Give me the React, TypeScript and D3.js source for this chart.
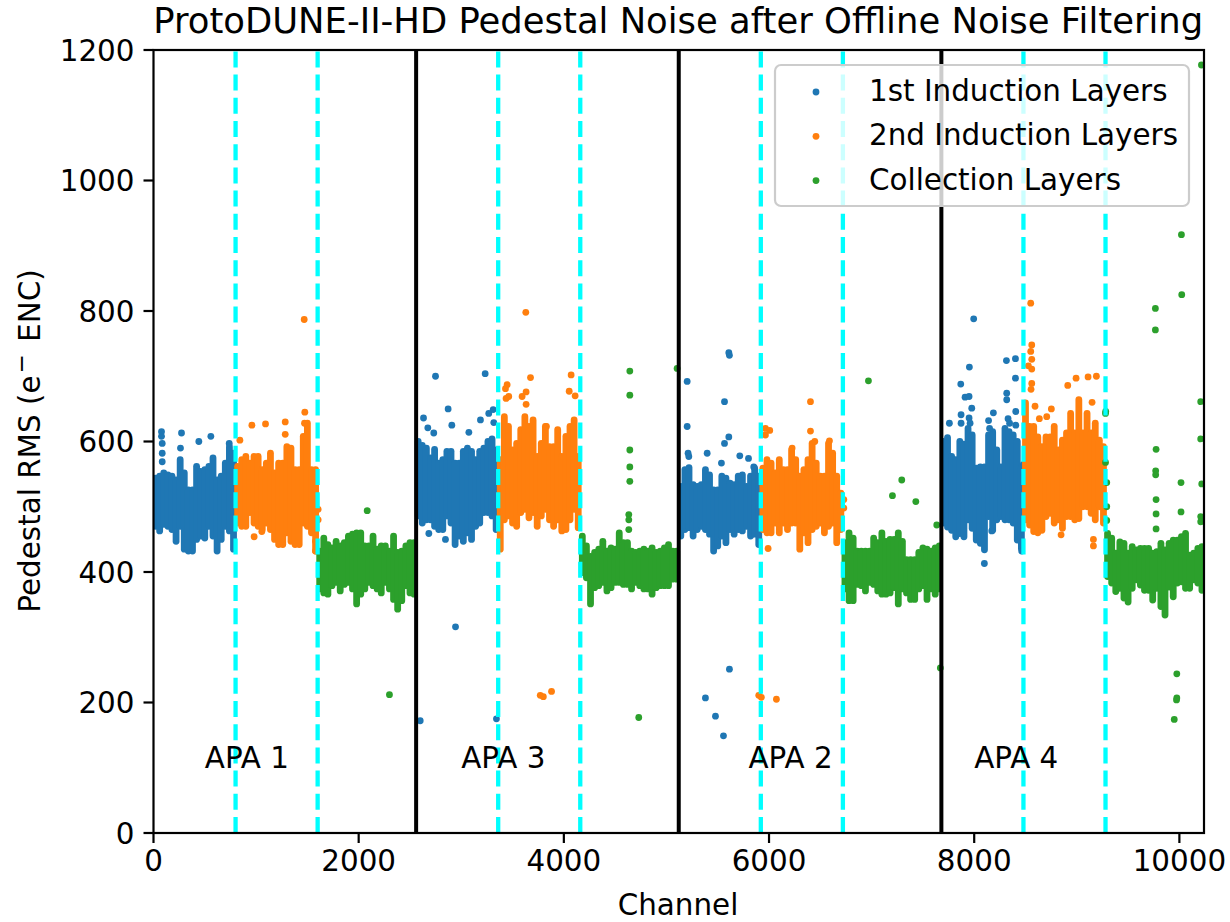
import React from "react";
import * as d3 from "d3";

// Channel ranges of each dense band and the width of one read-off column
const apaStarts = [0, 2560, 5120, 7680];
const firstWidth = 800;
const secondWidth = 800;
const columnStep = 40;

// Upper / lower edge of the dense cloud
const firstHi = [
  [544, 547, 552, 549, 547, 541, 572, 552, 526, 526, 562, 554, 557, 562, 575, 541, 547, 567, 592, 582],
  [600, 594, 590, 575, 588, 567, 572, 585, 585, 567, 567, 585, 590, 585, 572, 585, 590, 600, 604, 587],
  [531, 557, 560, 534, 531, 534, 557, 549, 526, 526, 547, 544, 536, 534, 547, 549, 531, 547, 559, 547],
  [600, 606, 577, 572, 600, 596, 620, 610, 559, 561, 561, 610, 615, 587, 561, 620, 615, 610, 600, 561],
];
const firstLo = [
  [470, 463, 473, 470, 465, 447, 470, 435, 432, 432, 450, 455, 452, 470, 455, 432, 450, 470, 463, 435],
  [486, 475, 480, 480, 470, 465, 465, 486, 475, 442, 455, 447, 460, 450, 470, 475, 491, 491, 486, 465],
  [455, 465, 468, 455, 465, 470, 465, 458, 432, 440, 455, 445, 465, 458, 465, 463, 470, 455, 458, 442],
  [475, 469, 464, 454, 459, 454, 480, 467, 449, 444, 434, 485, 464, 480, 485, 480, 480, 475, 449, 436],
];
const secondHi = [
  [562, 572, 577, 567, 577, 577, 557, 567, 582, 552, 567, 567, 592, 590, 557, 557, 608, 628, 557, 557],
  [572, 638, 623, 587, 597, 618, 638, 623, 633, 577, 597, 623, 592, 592, 618, 577, 608, 623, 633, 577],
  [559, 572, 567, 552, 572, 557, 557, 587, 572, 547, 557, 572, 597, 567, 547, 547, 597, 582, 547, 521],
  [659, 623, 623, 607, 592, 607, 607, 623, 587, 602, 613, 643, 613, 664, 613, 643, 613, 628, 602, 592],
];
const secondLo = [
  [475, 470, 470, 491, 475, 470, 465, 475, 465, 450, 442, 442, 460, 447, 442, 442, 475, 470, 460, 432],
  [435, 480, 486, 475, 470, 491, 496, 483, 491, 470, 486, 496, 480, 470, 480, 463, 465, 480, 496, 468],
  [465, 460, 460, 475, 460, 475, 465, 475, 475, 435, 460, 445, 465, 470, 475, 460, 470, 475, 445, 465],
  [480, 472, 462, 460, 464, 485, 490, 475, 480, 467, 485, 485, 480, 482, 500, 500, 490, 480, 500, 475],
];
const collectionHi = [
  [432, 452, 442, 437, 447, 440, 445, 455, 458, 460, 460, 440, 440, 455, 435, 440, 440, 432, 455, 430, 432, 440, 445, 445],
  [455, 440, 424, 430, 435, 447, 432, 437, 435, 460, 445, 445, 432, 430, 432, 435, 432, 437, 430, 432, 437, 442, 432, 432],
  [445, 460, 452, 432, 432, 432, 432, 452, 445, 460, 447, 450, 450, 460, 447, 419, 419, 419, 430, 437, 435, 432, 437, 440],
  [459, 452, 429, 446, 444, 429, 439, 434, 436, 436, 436, 429, 431, 444, 434, 444, 449, 449, 454, 459, 426, 429, 436, 439],
];
const collectionLo = [
  [374, 368, 366, 379, 384, 371, 381, 384, 374, 351, 366, 374, 384, 379, 374, 368, 384, 374, 358, 343, 356, 379, 368, 366],
  [399, 391, 351, 376, 379, 384, 371, 376, 384, 384, 381, 381, 374, 384, 379, 374, 374, 366, 376, 379, 379, 379, 389, 389],
  [374, 356, 356, 381, 379, 371, 384, 381, 371, 366, 366, 368, 376, 351, 374, 368, 358, 358, 374, 379, 358, 374, 366, 374],
  [393, 383, 370, 375, 360, 354, 375, 388, 380, 372, 372, 357, 375, 347, 334, 377, 362, 383, 385, 375, 375, 388, 383, 372],
];

// Individually visible points: [channel, RMS]
const firstPoints = [
  [78, 615], [78, 608], [85, 597], [85, 582], [85, 569], [273, 613], [263, 590], [442, 600], [559, 608], [738, 597],
  [2749, 700], [3233, 704], [2872, 650], [2632, 636], [2674, 621], [2732, 613], [2908, 625], [3074, 614], [3187, 633], [3268, 643], [3311, 649], [3317, 629], [2684, 459], [2846, 450], [2944, 316], [2600, 172], [3343, 175],
  [5608, 736], [5614, 732], [5202, 692], [5566, 661], [5202, 623], [5608, 607], [5566, 597], [5715, 578], [5800, 574], [5536, 567], [5397, 582], [5211, 582], [5218, 577], [5851, 561], [5380, 207], [5478, 179], [5556, 149], [5614, 251],
  [7995, 788], [7953, 714], [8314, 724], [8402, 727], [8402, 697], [7869, 688], [7911, 668], [7950, 669], [7976, 651], [8317, 674], [8317, 664], [7872, 641], [7758, 628], [8187, 644], [8405, 646], [8405, 625], [8099, 413], [8171, 463], [8463, 432], [8480, 565],
  [7872, 628], [7950, 636], [7960, 628], [8140, 632], [8150, 620], [8330, 635], [8345, 628],
];
const secondPoints = [
  [1469, 787], [1475, 645], [1472, 628], [959, 625], [1092, 627], [1284, 630], [1284, 611], [842, 602], [981, 454], [1056, 462], [1605, 496], [1605, 480], [1579, 447], [1579, 432],
  [3629, 798], [3675, 698], [4071, 702], [3447, 687], [3431, 681], [3463, 669], [3437, 666], [3593, 669], [3632, 676], [3632, 657], [4052, 677], [4110, 670], [3830, 623], [3770, 211], [3800, 209], [3880, 217],
  [6404, 661], [6404, 616], [5965, 620], [6007, 617], [5965, 610], [5991, 436], [6225, 590], [6446, 600], [6589, 601], [6729, 511], [6729, 498], [5900, 211], [5925, 208], [6072, 205],
  [8551, 812], [8561, 748], [8551, 738], [8561, 726], [8528, 716], [8561, 711], [8561, 689], [8554, 680], [8993, 697], [8912, 686], [9110, 699], [9191, 700], [8593, 654], [8752, 650], [9149, 660], [8707, 638], [8635, 635], [9162, 450], [9162, 440], [8847, 457],
];
const collectionPoints = [
  [2083, 494], [2300, 212],
  [4643, 708], [4643, 671], [4643, 587], [4643, 561], [4643, 539], [4633, 488], [4633, 480], [4633, 465], [5104, 712], [4730, 177],
  [6969, 693], [7294, 541], [7203, 517], [7431, 508], [7635, 472], [7670, 253],
  [9766, 804], [9766, 771], [10023, 825], [10208, 661], [10208, 604], [9773, 588], [9769, 555], [9769, 549], [9773, 511], [9773, 489], [9773, 466], [10016, 537], [10016, 492], [10218, 535], [10208, 485], [10208, 477], [9282, 646], [9280, 643], [9280, 568], [9292, 537], [9292, 500], [9292, 479], [10215, 1177], [10020, 917], [9975, 244], [9975, 207], [9972, 204], [9950, 174],
];

const layerNames = ["1st Induction Layers", "2nd Induction Layers", "Collection Layers"];
const layerColors = ["#1f77b4", "#ff7f0e", "#2ca02c"];
const apaLabels = ["APA 1", "APA 3", "APA 2", "APA 4"];
const apaLabelChannels = [500, 3000, 5800, 8000];
const apaLabelRms = 100;
const xTicks = [0, 2000, 4000, 6000, 8000, 10000];
const yTicks = [0, 200, 400, 600, 800, 1000, 1200];

const FONT = "'DejaVu Sans', sans-serif";
const left = 153.5, right = 1204, top = 50, bottom = 833;
const TICK_SIZE = 29.4;
const R = 3.4;

export default function App() {
  const x = d3.scaleLinear().domain([0, 10240]).range([left, right]);
  const y = d3.scaleLinear().domain([0, 1200]).range([bottom, top]);

  const layers = [
    { hi: firstHi, lo: firstLo, pts: firstPoints, offset: 0 },
    { hi: secondHi, lo: secondLo, pts: secondPoints, offset: firstWidth },
    { hi: collectionHi, lo: collectionLo, pts: collectionPoints, offset: firstWidth + secondWidth },
  ];
  const cyan = apaStarts.flatMap((s) => [s + firstWidth, s + firstWidth + secondWidth]);
  const black = apaStarts.slice(1);

  return (
    <svg
      width={1230}
      height={922}
      viewBox="0 0 1230 922"
      style={{ position: "absolute", left: 0, top: 0, display: "block", background: "#fff" }}
      fontFamily={FONT}
    >
      <defs>
        <clipPath id="plot">
          <rect x={left} y={top} width={right - left} height={bottom - top} />
        </clipPath>
      </defs>
      <g clipPath="url(#plot)">
        {layers.map((l, k) => (
          <g key={k} stroke={layerColors[k]} fill={layerColors[k]} strokeLinecap="round" strokeWidth={R * 2}>
            {l.hi.map((col, a) =>
              col.map((h, i) => {
                const c = apaStarts[a] + l.offset + columnStep * (i + 0.5);
                return <line key={`${a}-${i}`} x1={x(c)} x2={x(c)} y1={y(h)} y2={y(l.lo[a][i])} />;
              })
            )}
            {l.pts.map(([c, v], i) => (
              <circle key={i} cx={x(c)} cy={y(v)} r={R} stroke="none" />
            ))}
          </g>
        ))}
        {cyan.map((c) => (
          <line key={c} x1={x(c)} x2={x(c)} y1={bottom} y2={top} stroke="#00ffff" strokeWidth={4.3} strokeDasharray="16 7.2" />
        ))}
        {black.map((c) => (
          <line key={c} x1={x(c)} x2={x(c)} y1={bottom} y2={top} stroke="#000" strokeWidth={4} />
        ))}
      </g>

      {apaLabels.map((t, i) => (
        <text key={t} x={x(apaLabelChannels[i])} y={y(apaLabelRms)} fontSize={TICK_SIZE} fill="#000">
          {t}
        </text>
      ))}

      <rect x={left} y={top} width={right - left} height={bottom - top} fill="none" stroke="#000" strokeWidth={2.2} />

      {xTicks.map((t) => (
        <g key={t}>
          <line x1={x(t)} x2={x(t)} y1={bottom} y2={bottom + 10} stroke="#000" strokeWidth={2.2} />
          <text x={x(t)} y={bottom + 38} textAnchor="middle" fontSize={TICK_SIZE} fill="#000">
            {t}
          </text>
        </g>
      ))}
      {yTicks.map((t) => (
        <g key={t}>
          <line x1={left - 10} x2={left} y1={y(t)} y2={y(t)} stroke="#000" strokeWidth={2.2} />
          <text x={left - 19} y={y(t) + 10.5} textAnchor="end" fontSize={TICK_SIZE} fill="#000">
            {t}
          </text>
        </g>
      ))}

      <text x={(left + right) / 2 - 0.5} y={33} textAnchor="middle" fontSize={35.4} fill="#000">
        ProtoDUNE-II-HD Pedestal Noise after Offline Noise Filtering
      </text>
      <text x={678} y={915} textAnchor="middle" fontSize={TICK_SIZE} fill="#000">
        Channel
      </text>
      <text
        transform={`translate(40,${(top + bottom) / 2 - 0.5}) rotate(-90)`}
        textAnchor="middle"
        fontSize={TICK_SIZE}
        fill="#000"
      >
        Pedestal RMS (e
        <tspan dy={-11} dx={2} fontSize={23}>−</tspan>
        <tspan dy={11} dx={3}> ENC)</tspan>
      </text>

      <rect x={775} y={65} width={414} height={141} rx={6} fill="#fff" fillOpacity={0.8} stroke="#cccccc" strokeWidth={2.2} />
      {layerNames.map((n, i) => {
        const ly = 92 + i * 44.3;
        return (
          <g key={n}>
            <circle cx={816} cy={ly} r={R} fill={layerColors[i]} />
            <text x={869} y={ly + 9} fontSize={TICK_SIZE} fill="#000">
              {n}
            </text>
          </g>
        );
      })}
    </svg>
  );
}
